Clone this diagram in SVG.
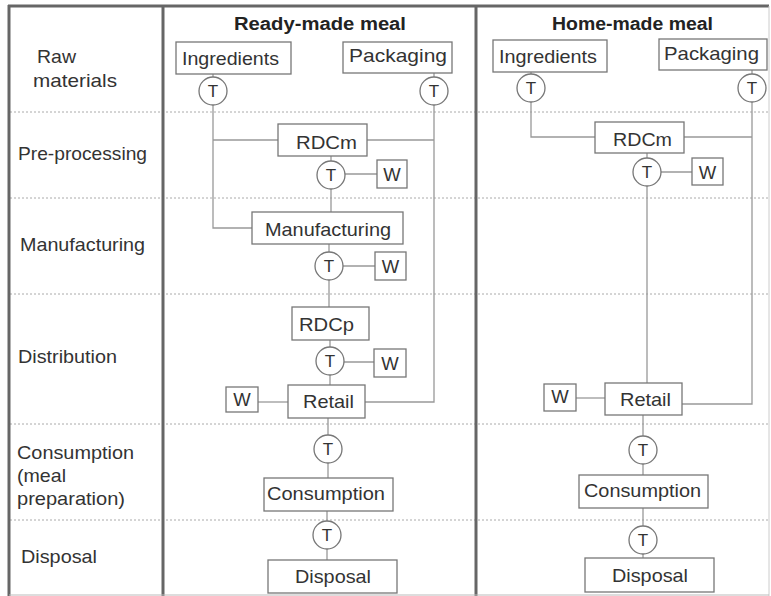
<svg xmlns="http://www.w3.org/2000/svg" width="771" height="596" viewBox="0 0 771 596">
<style>
.box{fill:#fff;stroke:#777;stroke-width:1.3}
.conn{fill:none;stroke:#999;stroke-width:1.3}
.grid{fill:none;stroke:#aaa;stroke-width:1;stroke-dasharray:2 2}
.frame{fill:none;stroke:#666;stroke-width:3}
.txt{font-family:"Liberation Sans",Arial,Helvetica,sans-serif;font-size:18.5px;fill:#333}
.mid{text-anchor:middle}
.hdr{font-weight:bold;fill:#222;font-size:18px}
.tt{font-family:"Liberation Sans",Arial,Helvetica,sans-serif;font-size:17px;fill:#333;text-anchor:middle}
</style>
<rect x="0" y="0" width="771" height="596" fill="#fff"/>

<g id="grid">
<line class="grid" x1="10" y1="112" x2="769" y2="112"/>
<line class="grid" x1="10" y1="198" x2="769" y2="198"/>
<line class="grid" x1="10" y1="294" x2="769" y2="294"/>
<line class="grid" x1="10" y1="424" x2="769" y2="424"/>
<line class="grid" x1="10" y1="520" x2="769" y2="520"/>
</g>

<g id="frame">
<line class="frame" x1="8" y1="6" x2="769" y2="6"/>
<line class="frame" x1="9" y1="5" x2="9" y2="596"/>
<line class="frame" x1="163" y1="5" x2="163" y2="596"/>
<line class="frame" x1="476" y1="5" x2="476" y2="596"/>
<line x1="769" y1="6" x2="769" y2="596" stroke="#ccc" stroke-width="1"/>
<line x1="9" y1="595" x2="769" y2="595" stroke="#bbb" stroke-width="1"/>
</g>

<g id="row-labels">
<text class="txt" x="37" y="63" textLength="39" lengthAdjust="spacingAndGlyphs">Raw</text>
<text class="txt" x="33" y="87" textLength="84" lengthAdjust="spacingAndGlyphs">materials</text>
<text class="txt" x="18" y="160" textLength="129" lengthAdjust="spacingAndGlyphs">Pre-processing</text>
<text class="txt" x="20" y="251" textLength="125" lengthAdjust="spacingAndGlyphs">Manufacturing</text>
<text class="txt" x="18" y="363" textLength="99" lengthAdjust="spacingAndGlyphs">Distribution</text>
<text class="txt" x="17" y="459" textLength="117" lengthAdjust="spacingAndGlyphs">Consumption</text>
<text class="txt" x="17" y="482" textLength="49" lengthAdjust="spacingAndGlyphs">(meal</text>
<text class="txt" x="17" y="505" textLength="108" lengthAdjust="spacingAndGlyphs">preparation)</text>
<text class="txt" x="21" y="563" textLength="76" lengthAdjust="spacingAndGlyphs">Disposal</text>
</g>

<g id="headers">
<text class="txt mid hdr" x="320" y="30" textLength="172" lengthAdjust="spacingAndGlyphs">Ready-made meal</text>
<text class="txt mid hdr" x="632.5" y="30" textLength="161" lengthAdjust="spacingAndGlyphs">Home-made meal</text>
</g>

<g id="connectors">
<path class="conn" d="M213 74V77M213 105V228H252M213 140H278"/>
<path class="conn" d="M434 73V77M434 105V402H365M367 140H434"/>
<path class="conn" d="M331 156V161M345 174H377M331 189V212"/>
<path class="conn" d="M329 244V252M343 266H375M329 280V307"/>
<path class="conn" d="M330 340V347M344 362H374M330 375V385"/>
<path class="conn" d="M258 402H288"/>
<path class="conn" d="M328 418V435M328 463V478"/>
<path class="conn" d="M327 511V521M327 549V560"/>
<path class="conn" d="M531 72V74M531 102V137H595"/>
<path class="conn" d="M752 70V74M752 102V404H682M684 137H752"/>
<path class="conn" d="M647 153V158M661 172H692M647 186V383"/>
<path class="conn" d="M576 398H605"/>
<path class="conn" d="M643 415V436M643 464V475"/>
<path class="conn" d="M643 508V526M643 554V558"/>
</g>

<g id="rm-ingredients"><rect class="box" x="176" y="42" width="115" height="32"/><text class="txt mid" x="230.5" y="65" textLength="97" lengthAdjust="spacingAndGlyphs">Ingredients</text></g>
<g id="rm-packaging"><rect class="box" x="343" y="42" width="109" height="31"/><text class="txt mid" x="398" y="62" textLength="98" lengthAdjust="spacingAndGlyphs">Packaging</text></g>
<g id="rm-t1"><circle class="box" cx="213" cy="91" r="14"/><text class="tt" x="213" y="97">T</text></g>
<g id="rm-t2"><circle class="box" cx="434" cy="91" r="14"/><text class="tt" x="434" y="97">T</text></g>
<g id="rm-rdcm"><rect class="box" x="278" y="124" width="89" height="32"/><text class="txt mid" x="326.5" y="149" textLength="61" lengthAdjust="spacingAndGlyphs">RDCm</text></g>
<g id="rm-t3"><circle class="box" cx="331" cy="175" r="14"/><text class="tt" x="331" y="181">T</text></g>
<g id="rm-w1"><rect class="box" x="377" y="160" width="30" height="28"/><text class="txt mid" x="392" y="181">W</text></g>
<g id="rm-manufacturing"><rect class="box" x="252" y="212" width="151" height="32"/><text class="txt mid" x="328" y="236" textLength="126" lengthAdjust="spacingAndGlyphs">Manufacturing</text></g>
<g id="rm-t4"><circle class="box" cx="329" cy="266" r="14"/><text class="tt" x="329" y="272">T</text></g>
<g id="rm-w2"><rect class="box" x="375" y="252" width="31" height="28"/><text class="txt mid" x="390.5" y="273">W</text></g>
<g id="rm-rdcp"><rect class="box" x="292" y="307" width="77" height="33"/><text class="txt mid" x="326.5" y="331" textLength="55" lengthAdjust="spacingAndGlyphs">RDCp</text></g>
<g id="rm-t5"><circle class="box" cx="330" cy="361" r="14"/><text class="tt" x="330" y="367">T</text></g>
<g id="rm-w3"><rect class="box" x="374" y="349" width="32" height="28"/><text class="txt mid" x="390" y="370">W</text></g>
<g id="rm-retail"><rect class="box" x="288" y="385" width="77" height="33"/><text class="txt mid" x="328.5" y="408" textLength="51" lengthAdjust="spacingAndGlyphs">Retail</text></g>
<g id="rm-w4"><rect class="box" x="226" y="387" width="32" height="25"/><text class="txt mid" x="242" y="406">W</text></g>
<g id="rm-t6"><circle class="box" cx="328" cy="449" r="14"/><text class="tt" x="328" y="455">T</text></g>
<g id="rm-consumption"><rect class="box" x="264" y="478" width="129" height="33"/><text class="txt mid" x="326" y="500" textLength="118" lengthAdjust="spacingAndGlyphs">Consumption</text></g>
<g id="rm-t7"><circle class="box" cx="327" cy="535" r="14"/><text class="tt" x="327" y="541">T</text></g>
<g id="rm-disposal"><rect class="box" x="268" y="560" width="129" height="33"/><text class="txt mid" x="333" y="583" textLength="76" lengthAdjust="spacingAndGlyphs">Disposal</text></g>

<g id="hm-ingredients"><rect class="box" x="493" y="40" width="114" height="32"/><text class="txt mid" x="548" y="63" textLength="98" lengthAdjust="spacingAndGlyphs">Ingredients</text></g>
<g id="hm-packaging"><rect class="box" x="659" y="39" width="108" height="31"/><text class="txt mid" x="711.5" y="60" textLength="95" lengthAdjust="spacingAndGlyphs">Packaging</text></g>
<g id="hm-t1"><circle class="box" cx="531" cy="88" r="14"/><text class="tt" x="531" y="94">T</text></g>
<g id="hm-t2"><circle class="box" cx="752" cy="88" r="14"/><text class="tt" x="752" y="94">T</text></g>
<g id="hm-rdcm"><rect class="box" x="595" y="122" width="89" height="31"/><text class="txt mid" x="642.5" y="146" textLength="59" lengthAdjust="spacingAndGlyphs">RDCm</text></g>
<g id="hm-t3"><circle class="box" cx="647" cy="172" r="14"/><text class="tt" x="647" y="178">T</text></g>
<g id="hm-w1"><rect class="box" x="692" y="158" width="31" height="27"/><text class="txt mid" x="707.5" y="179">W</text></g>
<g id="hm-retail"><rect class="box" x="605" y="383" width="77" height="32"/><text class="txt mid" x="645.5" y="406" textLength="51" lengthAdjust="spacingAndGlyphs">Retail</text></g>
<g id="hm-w2"><rect class="box" x="544" y="384" width="32" height="27"/><text class="txt mid" x="560" y="403">W</text></g>
<g id="hm-t4"><circle class="box" cx="643" cy="450" r="14"/><text class="tt" x="643" y="456">T</text></g>
<g id="hm-consumption"><rect class="box" x="579" y="475" width="129" height="33"/><text class="txt mid" x="642.5" y="497" textLength="117" lengthAdjust="spacingAndGlyphs">Consumption</text></g>
<g id="hm-t5"><circle class="box" cx="643" cy="540" r="14"/><text class="tt" x="643" y="546">T</text></g>
<g id="hm-disposal"><rect class="box" x="585" y="558" width="129" height="34"/><text class="txt mid" x="650" y="582" textLength="76" lengthAdjust="spacingAndGlyphs">Disposal</text></g>
</svg>
